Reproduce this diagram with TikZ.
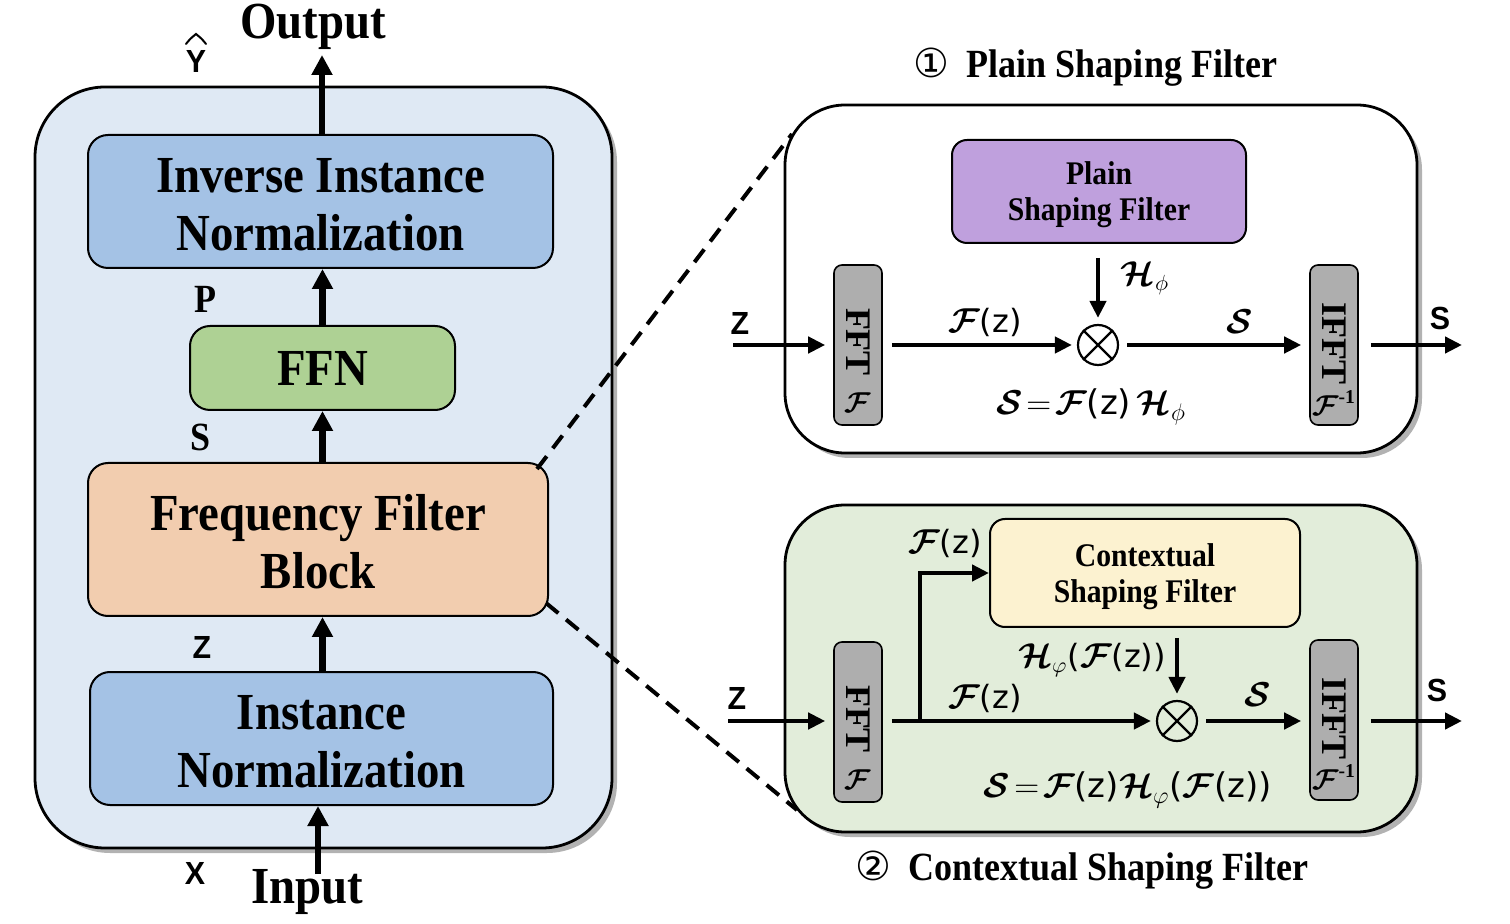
\documentclass[tikz,border=0pt]{standalone}
\usepackage{amsmath}
\usepackage{bm}
\usepackage{fontspec}
\setmainfont{Liberation Serif}
\newfontfamily\tfont[FakeStretch=0.9]{Liberation Serif}
\newfontfamily\lfont[FakeStretch=0.95]{Liberation Sans}
\newfontfamily\zfont{DejaVu Sans}
\newfontfamily\symfont{DejaVu Sans}
\usetikzlibrary{arrows.meta,shadows,calc}
\definecolor{panelblue}{HTML}{DFE9F4}
\definecolor{boxblue}{HTML}{A4C2E5}
\definecolor{ffngreen}{HTML}{AED194}
\definecolor{peach}{HTML}{F2CDAF}
\definecolor{lilac}{HTML}{BFA0DD}
\definecolor{cream}{HTML}{FCF2D0}
\definecolor{panelgreen}{HTML}{E2EDDA}
\definecolor{fftgray}{HTML}{AEAEAE}
\newcommand\myF{\bm{\mathcal{F}}}
\newcommand\myH{\bm{\mathcal{H}}}
\newcommand\myS{\bm{\mathcal{S}}}
\newcommand\myz{\mbox{\zfont(z)}}
\tikzset{
  panel/.style={draw=black, line width=1.4pt, rounded corners=35pt,
    drop shadow={shadow xshift=2.5pt, shadow yshift=-2.5pt, opacity=0.3, fill=black}},
  bigbox/.style={draw=black, line width=1pt, rounded corners=10pt, align=center, inner sep=0pt,
    font=\tfont\bfseries\fontsize{26}{29}\selectfont},
  ibox/.style={draw=black, line width=1pt, rounded corners=7.5pt, align=center, inner sep=0pt,
    font=\tfont\bfseries\fontsize{16.5}{18}\selectfont},
  fftbox/.style={draw=black, line width=0.8pt, fill=fftgray, rounded corners=4pt,
    minimum width=24pt, minimum height=80pt, inner sep=0pt},
  rot/.style={rotate=-90, inner sep=0pt, font=\bfseries\fontsize{18}{20}\selectfont},
  ttl/.style={inner sep=0pt, font=\tfont\bfseries\fontsize{26}{29}\selectfont},
  subttl/.style={inner sep=0pt, font=\tfont\bfseries\fontsize{20}{22}\selectfont},
  lab/.style={inner sep=0pt, font=\lfont\bfseries\fontsize{16}{18}\selectfont},
  slab/.style={inner sep=0pt, font=\tfont\bfseries\fontsize{20}{22}\selectfont},
  mlab/.style={inner sep=0pt, font=\fontsize{16}{19}\selectfont},
  otimes/.style={draw=black, circle, line width=1.1pt, minimum size=20pt, inner sep=0pt},
  bigarrow/.style={line width=3.2pt, -{Triangle[length=10pt,width=10pt]}},
  smallarrow/.style={line width=2.2pt, -{Triangle[length=8.5pt,width=8pt]}},
  dashline/.style={line width=2pt, dash pattern=on 8pt off 5pt}
}
\begin{document}
\begin{tikzpicture}[x=0.5pt,y=-0.5pt]
\path[use as bounding box, fill=white] (0,0) rectangle (1510,924);

% ---------- left panel ----------
\node[panel, fill=panelblue, minimum width=288.5pt, minimum height=380.5pt] (lp) at (323.5,467.5) {};
\node[bigbox, fill=boxblue, minimum width=232.5pt, minimum height=66.5pt] (iin) at (320.5,201.5) {\rule{0pt}{20pt}Inverse Instance\\Normalization};
\node[bigbox, fill=ffngreen, minimum width=132.5pt, minimum height=42pt] (ffn) at (322.5,368) {FFN};
\node[bigbox, fill=peach, minimum width=230pt, minimum height=76.5pt] (ffb) at (318,539.5) {\rule{0pt}{20pt}Frequency Filter\\Block};
\node[bigbox, fill=boxblue, minimum width=231.5pt, minimum height=66.5pt] (inn) at (321.5,738.5) {\rule{0pt}{20pt}Instance\\Normalization};

\coordinate (outp) at (322,55);
\coordinate (inp) at (318,874);
\draw[bigarrow] (outp |- iin.north) -- (outp);
\draw[bigarrow] (ffn.north) -- (ffn.north |- iin.south);
\draw[bigarrow] (ffn.north |- ffb.north) -- (ffn.south);
\draw[bigarrow] (ffn.north |- inn.north) -- (ffn.north |- ffb.south);
\draw[bigarrow] (inp) -- (inp |- inn.south);

\node[ttl] (outtxt) at (313,27) {Output};
\node[ttl] (intxt) at (307,892) {Input};
\node[lab] (yhat) at (196,61) {Y};
\coordinate (hatl) at (186,44);
\coordinate (hatt) at (196,34);
\coordinate (hatr) at (206,44);
\draw[line width=1pt, line cap=round] (hatl) .. controls (190,39) .. (hatt) .. controls (202,39) .. (hatr);
\node[slab] (plab) at (205,299) {P};
\node[slab] (slab) at (201,437) {S};
\node[lab] (zlab) at (202,647) {Z};
\node[lab] (xlab) at (195,873) {X};

% ---------- dashed zoom lines ----------
\coordinate (d1a) at (537,469);
\coordinate (d1b) at (792,134);
\coordinate (d2a) at (546,603);
\coordinate (d2b) at (797,810);
\draw[dashline] (d1a) -- (d1b);
\draw[dashline] (d2a) -- (d2b);

% ---------- top right panel ----------
\node[panel, fill=white, rounded corners=30pt, minimum width=316pt, minimum height=174pt] (tp) at (1101,279) {};
\node[ibox, fill=lilac, minimum width=147pt, minimum height=51.5pt] (psf) at (1099,191.5) {\rule{0pt}{15pt}Plain\\Shaping Filter};
\node[fftbox] (fft1) at (858,345) {};
\node[fftbox] (ifft1) at (1334,345) {};
\node[rot] (fft1t) at (858,342) {FFT};
\node[rot] (ifft1t) at (1334,344) {IFFT};
\node[mlab] (fft1f) at (858,403) {\fontsize{14}{16}\selectfont$\myF$};
\node[mlab] (ifft1f) at (1334,403) {\fontsize{14}{16}\selectfont$\myF^{\textbf{-1}}$};
\node[otimes] (o1) at (1098,345) {};
\draw[line width=1.1pt] (o1.north west) -- (o1.south east) (o1.north east) -- (o1.south west);

\coordinate (zin1) at (733,345);
\coordinate (out1) at (1462,345);
\draw[smallarrow, shorten >=4pt] (zin1) -- (fft1.west);
\draw[smallarrow, shorten <=4.5pt, shorten >=2.5pt] (fft1.east) -- (o1.west);
\draw[smallarrow, shorten <=7pt, shorten >=3pt] (o1.north |- psf.south) -- (o1.north);
\draw[smallarrow, shorten <=4pt, shorten >=4pt] (o1.east) -- (ifft1.west);
\draw[smallarrow, shorten <=6pt] (ifft1.east) -- (out1);

\node[lab] (z1) at (740,323) {Z};
\node[mlab] (fz1) at (985,322) {$\myF\myz$};
\node[mlab] (h1) at (1145,278) {$\myH_{\phi}$};
\node[mlab] (s1) at (1240,322) {$\myS$};
\node[mlab] (eq1) at (1091,407) {\fontsize{17}{20}\selectfont$\myS\!=\!\myF\myz\,\myH_{\phi}$};
\node[lab] (so1) at (1440,318) {S};

\node[subttl] (t1) at (1095,67) {{\symfont\mdseries ①}\hspace{9pt}Plain Shaping Filter};

% ---------- bottom right panel ----------
\node[panel, fill=panelgreen, rounded corners=30pt, minimum width=316pt, minimum height=163.5pt] (bp) at (1101,668.5) {};
\node[ibox, fill=cream, minimum width=155pt, minimum height=54pt] (csf) at (1145,573) {\rule{0pt}{15pt}Contextual\\Shaping Filter};
\node[fftbox] (fft2) at (858,722) {};
\node[fftbox] (ifft2) at (1334,720) {};
\node[rot] (fft2t) at (858,719) {FFT};
\node[rot] (ifft2t) at (1334,719) {IFFT};
\node[mlab] (fft2f) at (858,780) {\fontsize{14}{16}\selectfont$\myF$};
\node[mlab] (ifft2f) at (1334,777) {\fontsize{14}{16}\selectfont$\myF^{\textbf{-1}}$};
\node[otimes] (o2) at (1177,721) {};
\draw[line width=1.1pt] (o2.north west) -- (o2.south east) (o2.north east) -- (o2.south west);

\coordinate (zin2) at (728,721);
\coordinate (out2) at (1462,721);
\coordinate (br) at (920,721);
\draw[smallarrow, shorten >=4pt] (zin2) -- (zin2 -| fft2.west);
\draw[smallarrow, shorten <=4.5pt, shorten >=2.5pt] (fft2.east |- o2.west) -- (o2.west);
\draw[smallarrow] (br) |- (csf.west);
\draw[smallarrow, shorten <=5pt, shorten >=3pt] (o2.north |- csf.south) -- (o2.north);
\draw[smallarrow, shorten <=4pt, shorten >=4pt] (o2.east) -- (o2.east -| ifft2.west);
\draw[smallarrow, shorten <=6pt] (out2 -| ifft2.east) -- (out2);

\node[lab] (z2) at (737,698) {Z};
\node[mlab] (fz2a) at (945,543) {$\myF\myz$};
\node[mlab] (fz2b) at (985,698) {$\myF\myz$};
\node[mlab] (h2) at (1092,660) {$\myH_{\varphi}\mbox{\zfont(}\myF\myz\mbox{\zfont)}$};
\node[mlab] (s2) at (1258,695) {$\myS$};
\node[mlab] (eq2) at (1128,790) {\fontsize{17}{20}\selectfont$\myS\!=\!\myF\myz\myH_{\varphi}\mbox{\zfont(}\myF\myz\mbox{\zfont)}$};
\node[lab] (so2) at (1437,690) {S};

\node[subttl] (t2) at (1082,870) {{\symfont\mdseries ②}\hspace{9pt}Contextual Shaping Filter};
\end{tikzpicture}
\end{document}
